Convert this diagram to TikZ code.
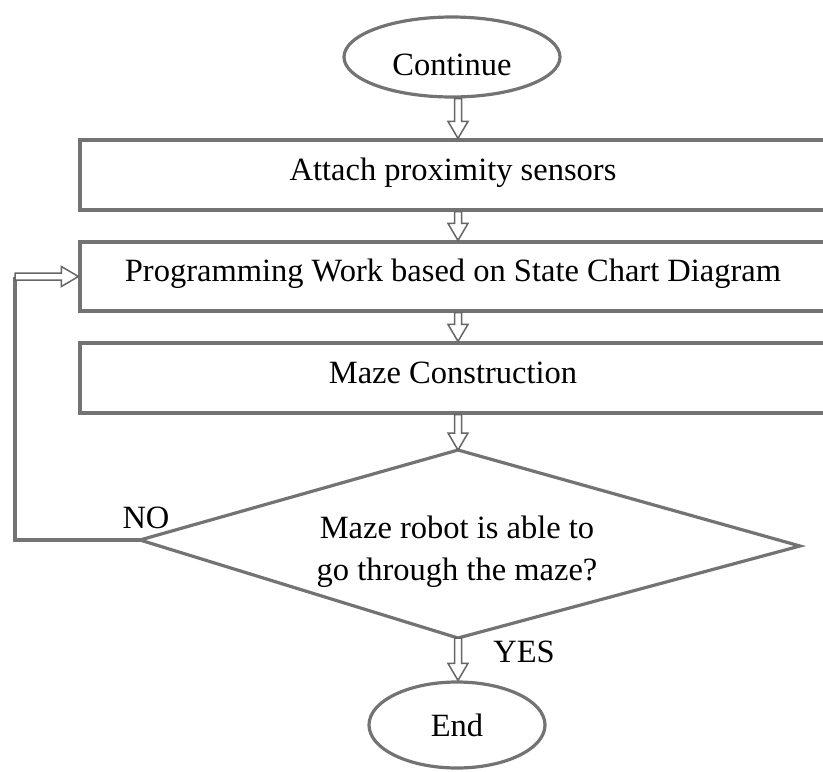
\documentclass[tikz,border=0pt]{standalone}
\usepackage{fontspec}
\setmainfont{Liberation Serif}
\usetikzlibrary{calc,shapes.geometric}

% hollow block arrow pointing down, from #1 to #2, on the arrow column
\newcommand\arrdown[2]{%
  \draw[hollow] let \p1=(#1 -| colx), \p2=(#2 -| colx) in
    (\x1-3.5pt,\y1) -- (\x1-3.5pt,\y2+17pt) -- (\x1-10pt,\y2+17pt) -- (\x1,\y2)
    -- (\x1+10pt,\y2+17pt) -- (\x1+3.5pt,\y2+17pt) -- (\x1+3.5pt,\y1) -- cycle;}
% hollow block arrow pointing right, from #1 to #2
\newcommand\arrright[2]{%
  \draw[hollow] let \p1=(#1), \p2=(#2) in
    (\x1,\y1+3.5pt) -- (\x2-17pt,\y1+3.5pt) -- (\x2-17pt,\y1+10pt) -- (\x2,\y1)
    -- (\x2-17pt,\y1-10pt) -- (\x2-17pt,\y1-3.5pt) -- (\x1,\y1-3.5pt) -- cycle;}

\tikzset{
  outline/.style={draw=black!55, line width=3.2pt},
  hollow/.style={draw=black!60, line width=1.5pt, fill=white, line join=miter},
  oval/.style={outline, ellipse, inner sep=0pt},
  stepbox/.style={outline, rectangle, minimum width=746pt, minimum height=70pt,
    inner sep=0pt, text height=1.0em, text depth=0em},
  lbl/.style={inner sep=0pt}
}

\begin{document}
\begin{tikzpicture}[x=1pt, y=-1pt, font=\fontsize{32.5}{42}\selectfont]
\useasboundingbox (0,0) rectangle (823,772);

\coordinate (colx) at (458,0);
\coordinate (loopx) at (15,0);

% start and end ovals
\node[oval, minimum width=216pt, minimum height=80pt] (start) at (452,57) {};
\node[lbl] (starttext) at (452,65) {Continue};

% process steps (right edges run off the page)
\node[stepbox] (box1) at (453,175) {Attach proximity sensors};
\node[stepbox, minimum height=69pt] (box2) at (453,276.5) {Programming Work based on State Chart Diagram};
\node[stepbox] (box3) at (453,378) {Maze Construction};

% decision
\coordinate (dT) at (458,450);
\coordinate (dR) at (800,546);
\coordinate (dB) at (458,638);
\coordinate (dL) at (140,540);
\draw[outline, line join=miter] (dT) -- (dR) -- (dB) -- (dL) -- cycle;
\node[lbl, align=center] (dtext) at (457,552) {Maze robot is able to\\go through the maze?};

\node[oval, minimum width=176pt, minimum height=86pt] (end) at (457,725) {End};

% labels on the decision exits
\node[lbl] (no) at (146,518) {NO};
\node[lbl] (yes) at (524,652) {YES};

% main flow
\arrdown{start.south}{box1.north}
\arrdown{box1.south}{box2.north}
\arrdown{box2.south}{box3.north}
\arrdown{box3.south}{dT}
\arrdown{dB}{end.north}

% loop back on NO
\draw[outline, line cap=square] (dL) -- (dL -| loopx) -- (box2.west -| loopx);
\arrright{box2.west -| loopx}{box2.west}
\end{tikzpicture}
\end{document}
